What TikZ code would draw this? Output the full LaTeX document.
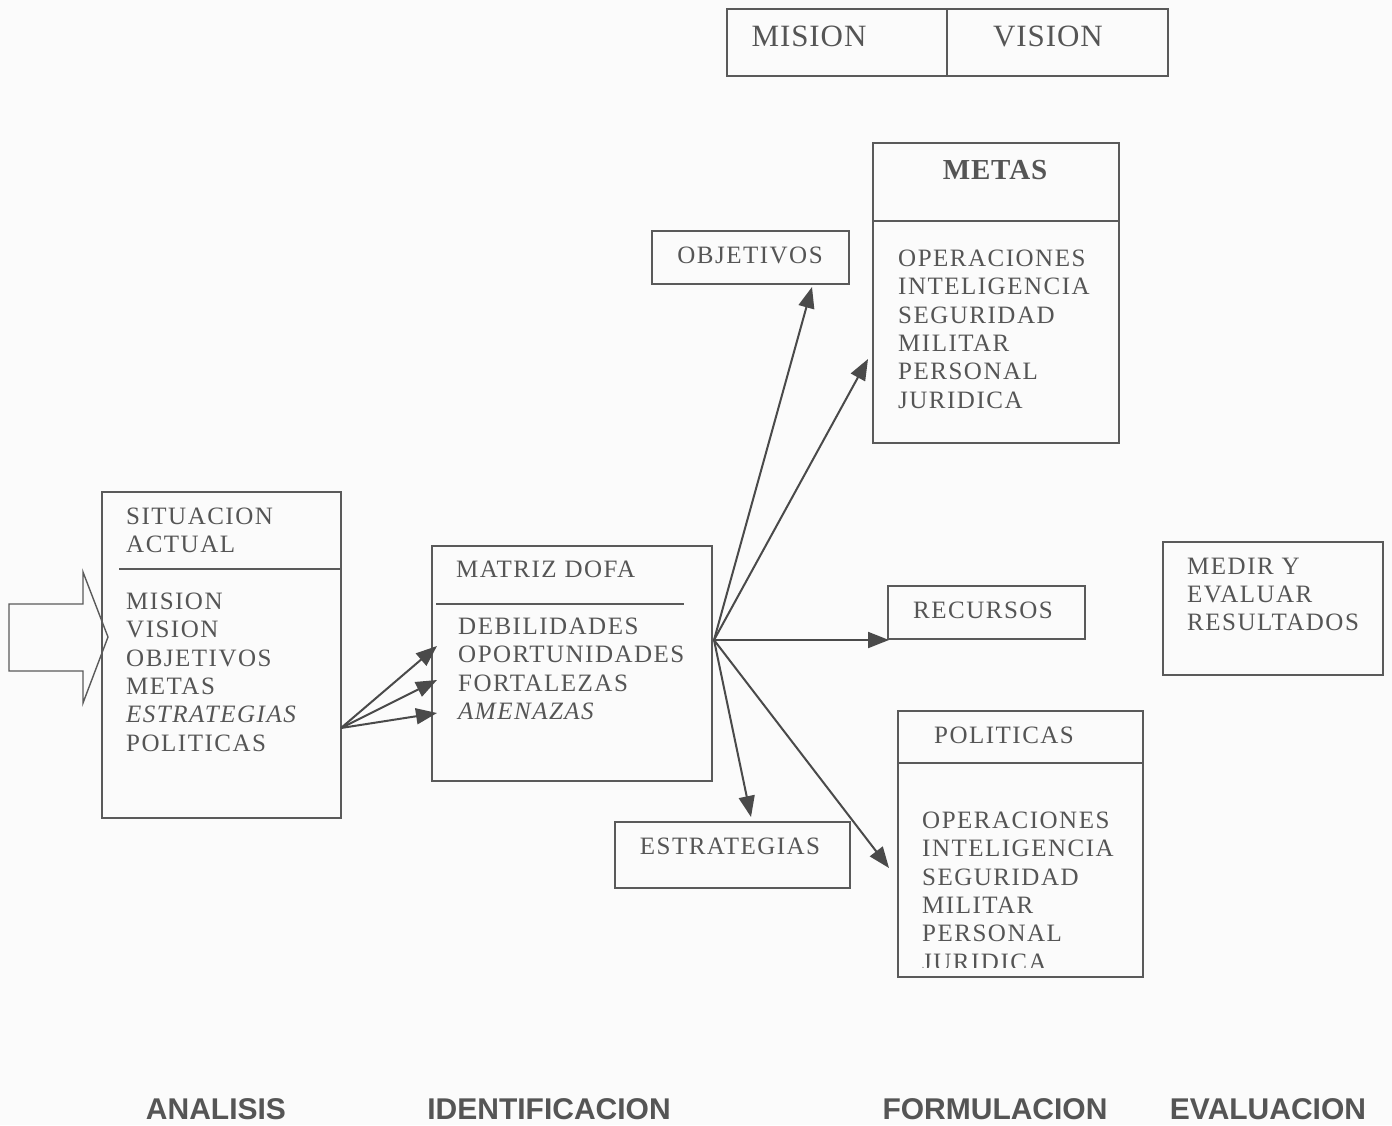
\documentclass[tikz,border=0pt]{standalone}
\usepackage{fontspec}
\setmainfont{Liberation Serif}
\newfontfamily\boxfont[LetterSpace=6]{Liberation Serif}
\newfontfamily\bigfont[LetterSpace=3]{Liberation Serif}
\newfontfamily\labfont{Liberation Sans}
\usetikzlibrary{arrows.meta}
\definecolor{ln}{HTML}{5A5A5A}
\definecolor{tx}{HTML}{555555}
\definecolor{ar}{HTML}{4A4A4A}
\definecolor{bg}{HTML}{FBFBFB}
\begin{document}
\begin{tikzpicture}[x=1pt,y=-1pt,
  box/.style={draw=ln, line width=1.4pt},
  txt/.style={text=tx, inner sep=0pt, font=\boxfont\fontsize{25}{28.4}\selectfont},
  lst/.style={txt, align=left, anchor=north west},
  big/.style={text=tx, inner sep=0pt, font=\bigfont\fontsize{31}{36}\selectfont},
  lab/.style={text=tx, inner sep=0pt, font=\labfont\bfseries\fontsize{30}{34}\selectfont},
  arr/.style={draw=ar, line width=2pt, -{Triangle[length=21pt,width=16pt]}}
]
\fill[bg] (0,0) rectangle (1392,1125);
\useasboundingbox (0,0) rectangle (1392,1125);

% MISION / VISION
\draw[box] (727,9) rectangle (1168,76);
\draw[box] (947,9) -- (947,76);
\node[big] (mis) at (809,36) {MISION};
\node[big] (vis) at (1048,36) {VISION};

% METAS
\draw[box] (873,143) rectangle (1119,443);
\draw[box] (873,221) -- (1119,221);
\node[big, font=\bigfont\bfseries\fontsize{29}{33}\selectfont] (metas) at (995,170) {METAS};
\node[lst] (metlist) at (898,249.5) {OPERACIONES\\INTELIGENCIA\\SEGURIDAD\\MILITAR\\PERSONAL\\JURIDICA};

% OBJETIVOS
\draw[box] (652,231) rectangle (849,284);
\node[txt] (obj) at (750,255) {OBJETIVOS};

% Block arrow
\draw[box] (9,604) -- (83,604) -- (83,572) -- (108,637) -- (83,703) -- (83,671) -- (9,671) -- cycle;

% SITUACION
\draw[box] (102,492) rectangle (341,818);
\draw[box] (119,569) -- (341,569);
\node[lst] (sit) at (126,507.5) {SITUACION\\ACTUAL};
\node[lst] (sitlist) at (126,592.5) {MISION\\VISION\\OBJETIVOS\\METAS\\\textit{ESTRATEGIAS}\\POLITICAS};

% MATRIZ DOFA
\draw[box] (432,546) rectangle (712,781);
\draw[box] (436,604) -- (684,604);
\node[txt, anchor=west] (dofa) at (456,569) {MATRIZ DOFA};
\node[lst] (dofalist) at (458,617.5) {DEBILIDADES\\OPORTUNIDADES\\FORTALEZAS\\\textit{AMENAZAS}};

% RECURSOS
\draw[box] (888,586) rectangle (1085,639);
\node[txt] (rec) at (983,610) {RECURSOS};

% MEDIR
\draw[box] (1163,542) rectangle (1383,675);
\node[lst] (med) at (1187,557.5) {MEDIR Y\\EVALUAR\\RESULTADOS};

% POLITICAS
\draw[box] (898,711) rectangle (1143,977);
\draw[box] (898,763) -- (1143,763);
\node[txt] (pol) at (1004,735) {POLITICAS};
\begin{scope}
\clip (900,765) rectangle (1141,967);
\node[lst] (pollist) at (922,811.5) {OPERACIONES\\INTELIGENCIA\\SEGURIDAD\\MILITAR\\PERSONAL\\JURIDICA};
\end{scope}

% ESTRATEGIAS
\draw[box] (615,822) rectangle (850,888);
\node[txt] (est) at (730,846) {ESTRATEGIAS};

% connectors
\coordinate (s0) at (341,728);
\coordinate (d1) at (437,646);
\coordinate (d2) at (437,680);
\coordinate (d3) at (437,713);
\draw[arr] (s0) -- (d1);
\draw[arr] (s0) -- (d2);
\draw[arr] (s0) -- (d3);

\coordinate (f0) at (714,640);
\coordinate (tobj) at (812,287);
\coordinate (tmet) at (868,359);
\coordinate (trec) at (889,640);
\coordinate (test) at (751,817);
\coordinate (tpol) at (889,868);
\draw[arr] (f0) -- (tobj);
\draw[arr] (f0) -- (tmet);
\draw[arr] (f0) -- (trec);
\draw[arr] (f0) -- (test);
\draw[arr] (f0) -- (tpol);

% bottom labels
\node[lab] (l1) at (216,1109) {ANALISIS};
\node[lab] (l2) at (549,1109) {IDENTIFICACION};
\node[lab] (l3) at (995,1109) {FORMULACION};
\node[lab] (l4) at (1268,1109) {EVALUACION};
\end{tikzpicture}
\end{document}
